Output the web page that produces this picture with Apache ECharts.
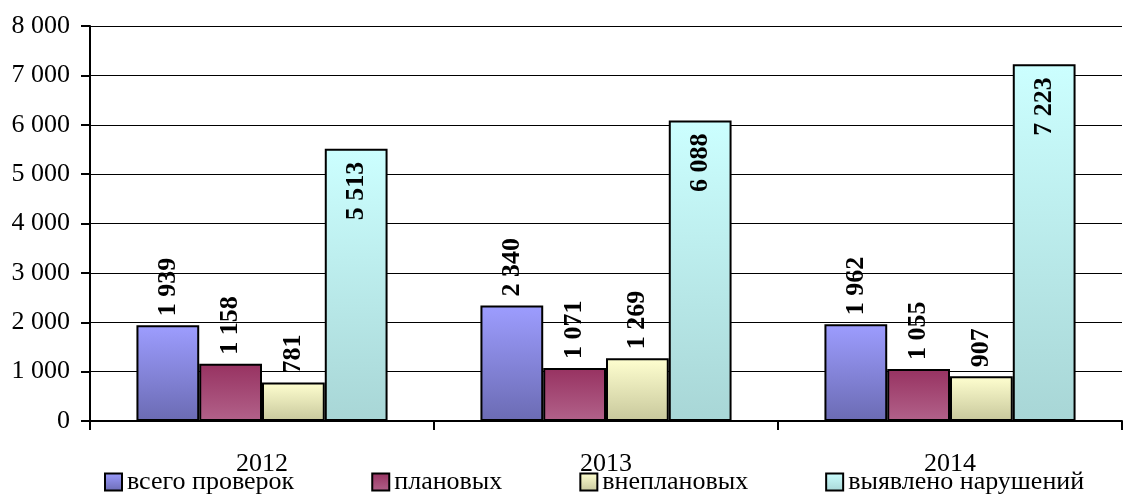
<!DOCTYPE html>
<html><head><meta charset="utf-8">
<script src="https://cdn.jsdelivr.net/npm/echarts@6/dist/echarts.min.js"></script>
<style>html,body{margin:0;padding:0;background:#fff}#c{width:1125px;height:495px}</style>
</head><body><div id="c"></div>
<script>
const categories = ['2012', '2013', '2014'];
const seriesNames = ['всего проверок', 'плановых', 'внеплановых', 'выявлено нарушений'];
const totalChecks = [1939, 2340, 1962];
const planned = [1158, 1071, 1055];
const unplanned = [781, 1269, 907];
const violations = [5513, 6088, 7223];
const yTicks = [0, 1000, 2000, 3000, 4000, 5000, 6000, 7000, 8000];

const FONT = 'Liberation Serif, DejaVu Serif, serif';
const fmt = v => String(v).replace(/\B(?=(\d{3})+(?!\d))/g, ' ');
const grad = (a, b) => new echarts.graphic.LinearGradient(0, 0, 0, 1, [{offset: 0, color: a}, {offset: 1, color: b}]);
const colors = [
  grad('#9d9dff', '#6b6bb3'),
  grad('#973261', '#b2628a'),
  grad('#ffffd0', '#c8c89c'),
  grad('#ccffff', '#a8d6d6')
];
const dataSets = [totalChecks, planned, unplanned, violations];

const series = dataSets.map((d, i) => ({
  name: seriesNames[i],
  type: 'bar',
  data: d,
  barGap: '0%',
  barCategoryGap: '27%',
  itemStyle: {color: colors[i], borderColor: '#000', borderWidth: 2},
  label: {
    show: true,
    rotate: 90,
    position: i === 3 ? 'insideTop' : 'top',
    align: i === 3 ? 'right' : 'left',
    verticalAlign: 'middle',
    distance: i === 3 ? 13 : 9,
    formatter: p => fmt(p.value),
    fontFamily: FONT,
    fontWeight: 'bold',
    fontSize: 26,
    color: '#000'
  }
}));

const chart = echarts.init(document.getElementById('c'));
chart.setOption({
  animation: false,
  textStyle: {fontFamily: FONT},
  grid: {left: 90, right: 3, top: 26, bottom: 74, containLabel: false},
  legend: {
    top: 469,
    left: 104,
    padding: 0,
    itemGap: 77,
    itemWidth: 17,
    itemHeight: 17,
    icon: 'rect',
    textStyle: {fontFamily: FONT, fontSize: 26, color: '#000'},
    itemStyle: {borderColor: '#000', borderWidth: 2}
  },
  xAxis: {
    type: 'category',
    data: categories,
    axisLine: {lineStyle: {color: '#000', width: 2}},
    axisTick: {show: true, length: 9, lineStyle: {color: '#000', width: 2}},
    axisLabel: {fontFamily: FONT, fontSize: 26, color: '#000', margin: 30}
  },
  yAxis: {
    type: 'value',
    min: yTicks[0],
    max: yTicks[yTicks.length - 1],
    interval: 1000,
    axisLine: {show: true, lineStyle: {color: '#000', width: 2}},
    axisTick: {show: true, length: 9, lineStyle: {color: '#000', width: 2}},
    splitLine: {lineStyle: {color: '#000', width: 1}},
    axisLabel: {fontFamily: FONT, fontSize: 26, color: '#000', margin: 20, formatter: v => fmt(v)}
  },
  series: series
});
</script>
</body></html>
